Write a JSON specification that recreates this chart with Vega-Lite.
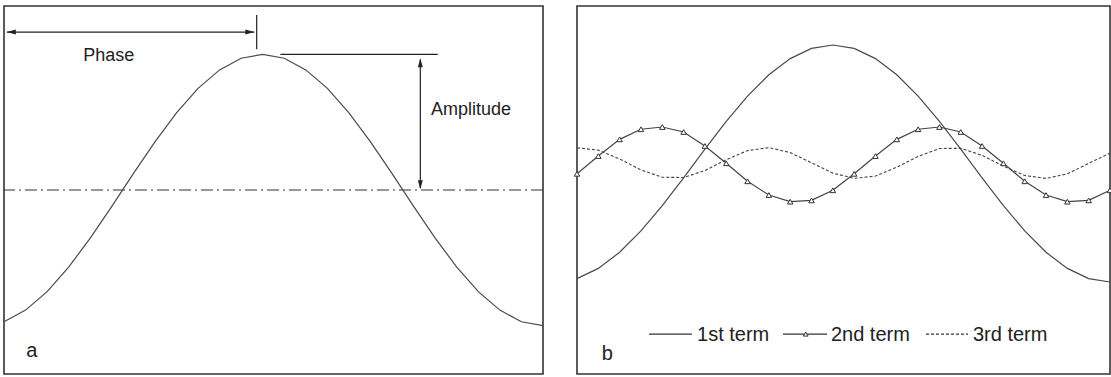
{
  "$schema": "https://vega.github.io/schema/vega-lite/v6.json",
  "background": "white",
  "padding": {"left": 0, "top": 5, "right": 0, "bottom": 0},
  "spacing": 34,
  "bounds": "flush",
  "config": {
    "view": {"stroke": "#333333", "strokeWidth": 1.6},
    "axis": {"disable": true},
    "font": "Liberation Sans"
  },
  "datasets": {
    "curve": [
      {"i": 0, "v": -0.971}, {"i": 1, "v": -0.885}, {"i": 2, "v": -0.749}, {"i": 3, "v": -0.568},
      {"i": 4, "v": -0.355}, {"i": 5, "v": -0.121}, {"i": 6, "v": 0.121}, {"i": 7, "v": 0.355},
      {"i": 8, "v": 0.568}, {"i": 9, "v": 0.749}, {"i": 10, "v": 0.885}, {"i": 11, "v": 0.971},
      {"i": 12, "v": 1.0}, {"i": 13, "v": 0.971}, {"i": 14, "v": 0.885}, {"i": 15, "v": 0.749},
      {"i": 16, "v": 0.568}, {"i": 17, "v": 0.355}, {"i": 18, "v": 0.121}, {"i": 19, "v": -0.121},
      {"i": 20, "v": -0.355}, {"i": 21, "v": -0.568}, {"i": 22, "v": -0.749}, {"i": 23, "v": -0.885},
      {"i": 24, "v": -0.971}, {"i": 25, "v": -1.0}
    ],
    "term2": [
      {"i": 0, "v": -0.087}, {"i": 1, "v": 0.063}, {"i": 2, "v": 0.204}, {"i": 3, "v": 0.289},
      {"i": 4, "v": 0.308}, {"i": 5, "v": 0.266}, {"i": 6, "v": 0.148}, {"i": 7, "v": 0.002},
      {"i": 8, "v": -0.15}, {"i": 9, "v": -0.266}, {"i": 10, "v": -0.322}, {"i": 11, "v": -0.311},
      {"i": 12, "v": -0.226}, {"i": 13, "v": -0.087}, {"i": 14, "v": 0.063}, {"i": 15, "v": 0.204},
      {"i": 16, "v": 0.289}, {"i": 17, "v": 0.308}, {"i": 18, "v": 0.266}, {"i": 19, "v": 0.148},
      {"i": 20, "v": 0.002}, {"i": 21, "v": -0.15}, {"i": 22, "v": -0.266}, {"i": 23, "v": -0.322},
      {"i": 24, "v": -0.311}, {"i": 25, "v": -0.226}
    ],
    "term3": [
      {"i": 0, "v": 0.133}, {"i": 1, "v": 0.113}, {"i": 2, "v": 0.038}, {"i": 3, "v": -0.054},
      {"i": 4, "v": -0.116}, {"i": 5, "v": -0.118}, {"i": 6, "v": -0.059}, {"i": 7, "v": 0.032},
      {"i": 8, "v": 0.109}, {"i": 9, "v": 0.134}, {"i": 10, "v": 0.092}, {"i": 11, "v": 0.006},
      {"i": 12, "v": -0.081}, {"i": 13, "v": -0.125}, {"i": 14, "v": -0.106}, {"i": 15, "v": -0.031},
      {"i": 16, "v": 0.06}, {"i": 17, "v": 0.127}, {"i": 18, "v": 0.128}, {"i": 19, "v": 0.069},
      {"i": 20, "v": -0.022}, {"i": 21, "v": -0.101}, {"i": 22, "v": -0.126}, {"i": 23, "v": -0.087},
      {"i": 24, "v": 0.001}, {"i": 25, "v": 0.088}
    ],
    "zero": [{"v": 0}],
    "rulesA": [
      {"i": 0.13, "i2": 11.61, "v": 1.164, "v2": 1.164},
      {"i": 11.72, "i2": 11.72, "v": 1.29, "v2": 1.037},
      {"i": 12.82, "i2": 20.12, "v": 1.0, "v2": 1.0},
      {"i": 19.31, "i2": 19.31, "v": 0.96, "v2": 0.015}
    ],
    "arrowsA": [
      {"i": 0.13, "v": 1.164, "dir": "left"},
      {"i": 11.61, "v": 1.164, "dir": "right"},
      {"i": 19.31, "v": 0.971, "dir": "up"},
      {"i": 19.31, "v": 0.005, "dir": "down"}
    ],
    "labelsA": [
      {"label": "Phase", "i": 4.86, "v": 0.951},
      {"label": "Amplitude", "i": 21.66, "v": 0.553}
    ],
    "letterA": [{"label": "a", "i": 1.285, "v": -1.231}],
    "legendRules": [
      {"i": 3.38, "i2": 5.39, "v": -1.439, "term": "1st term"},
      {"i": 9.66, "i2": 11.73, "v": -1.439, "term": "2nd term"},
      {"i": 16.37, "i2": 18.34, "v": -1.439, "term": "3rd term"}
    ],
    "legendMarker": [{"i": 10.73, "v": -1.439}],
    "legendLabels": [
      {"label": "1st term", "i": 5.63, "v": -1.498},
      {"label": "2nd term", "i": 11.91, "v": -1.498},
      {"label": "3rd term", "i": 18.57, "v": -1.498}
    ],
    "letterB": [{"label": "b", "i": 1.42, "v": -1.658}]
  },
  "hconcat": [
    {
      "width": 539,
      "height": 368,
      "encoding": {
        "x": {"field": "i", "type": "quantitative", "scale": {"domain": [0, 25], "nice": false, "zero": false}},
        "y": {"field": "v", "type": "quantitative", "scale": {"domain": [-1.356, 1.356], "nice": false, "zero": false}}
      },
      "layer": [
        {
          "data": {"name": "zero"},
          "mark": {"type": "rule", "stroke": "#333333", "strokeWidth": 1.1, "strokeDash": [12, 4, 2, 4]},
          "encoding": {"y": {"field": "v", "type": "quantitative"}, "x": null}
        },
        {
          "data": {"name": "curve"},
          "mark": {"type": "line", "stroke": "#4a4a4a", "strokeWidth": 1.2}
        },
        {
          "data": {"name": "rulesA"},
          "mark": {"type": "rule", "stroke": "#222222", "strokeWidth": 1.2},
          "encoding": {
            "x2": {"field": "i2"},
            "y2": {"field": "v2"}
          }
        },
        {
          "data": {"name": "arrowsA"},
          "mark": {"type": "point", "filled": true, "color": "#222222", "size": 64, "opacity": 1, "strokeWidth": 0},
          "encoding": {
            "shape": {
              "field": "dir", "type": "nominal", "legend": null,
              "scale": {
                "domain": ["left", "right", "up", "down"],
                "range": ["M0,0L2.25,-0.62L2.25,0.62Z", "M0,0L-2.25,-0.62L-2.25,0.62Z", "M0,0L-0.62,2.25L0.62,2.25Z", "M0,0L-0.62,-2.25L0.62,-2.25Z"]
              }
            }
          }
        },
        {
          "data": {"name": "labelsA"},
          "mark": {"type": "text", "fontSize": 18, "align": "center", "baseline": "alphabetic", "color": "#222222"},
          "encoding": {"text": {"field": "label"}}
        },
        {
          "data": {"name": "letterA"},
          "mark": {"type": "text", "fontSize": 20, "align": "center", "baseline": "alphabetic", "color": "#222222"},
          "encoding": {"text": {"field": "label"}}
        }
      ]
    },
    {
      "width": 533,
      "height": 368,
      "encoding": {
        "x": {"field": "i", "type": "quantitative", "scale": {"domain": [0, 25], "nice": false, "zero": false}},
        "y": {"field": "v", "type": "quantitative", "scale": {"domain": [-1.776, 1.329], "nice": false, "zero": false}}
      },
      "layer": [
        {
          "data": {"name": "curve"},
          "mark": {"type": "line", "stroke": "#4a4a4a", "strokeWidth": 1.2}
        },
        {
          "data": {"name": "term3"},
          "mark": {"type": "line", "stroke": "#444444", "strokeWidth": 1.1, "strokeDash": [3, 2]}
        },
        {
          "data": {"name": "term2"},
          "mark": {"type": "line", "stroke": "#444444", "strokeWidth": 1.2}
        },
        {
          "data": {"name": "term2"},
          "mark": {"type": "point", "shape": "triangle-up", "size": 30, "filled": true, "fill": "white", "stroke": "#333333", "strokeWidth": 1, "opacity": 1}
        },
        {
          "data": {"name": "legendRules"},
          "mark": {"type": "rule", "stroke": "#333333", "strokeWidth": 1.2},
          "encoding": {
            "x2": {"field": "i2"},
            "strokeDash": {
              "field": "term", "type": "nominal", "legend": null,
              "scale": {"domain": ["1st term", "2nd term", "3rd term"], "range": [[1, 0], [1, 0], [3, 2]]}
            }
          }
        },
        {
          "data": {"name": "legendMarker"},
          "mark": {"type": "point", "shape": "triangle-up", "size": 22, "filled": true, "fill": "white", "stroke": "#333333", "strokeWidth": 1, "opacity": 1}
        },
        {
          "data": {"name": "legendLabels"},
          "mark": {"type": "text", "fontSize": 20, "align": "left", "baseline": "alphabetic", "color": "#222222"},
          "encoding": {"text": {"field": "label"}}
        },
        {
          "data": {"name": "letterB"},
          "mark": {"type": "text", "fontSize": 20, "align": "center", "baseline": "alphabetic", "color": "#222222"},
          "encoding": {"text": {"field": "label"}}
        }
      ]
    }
  ]
}
